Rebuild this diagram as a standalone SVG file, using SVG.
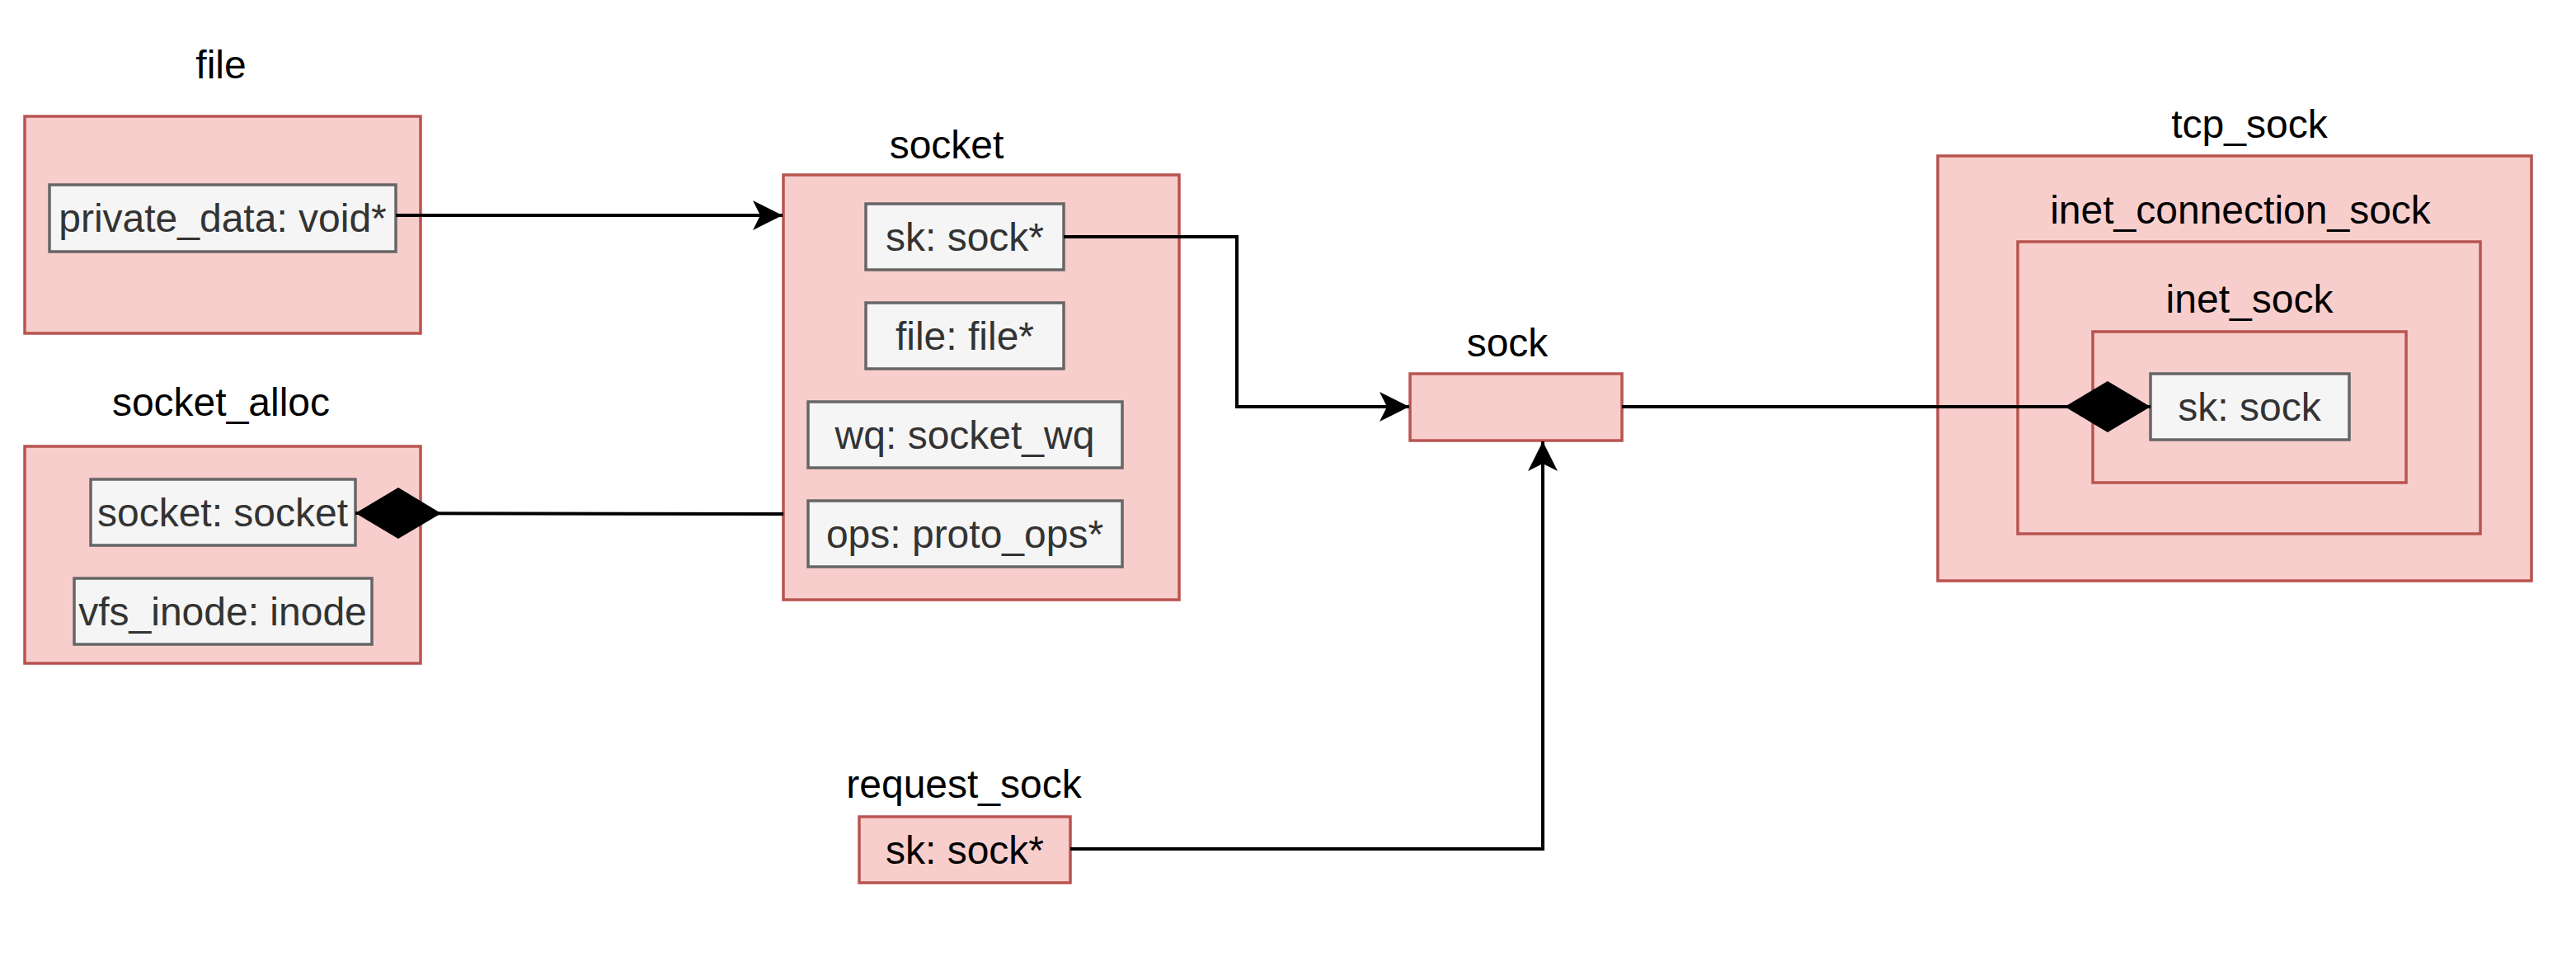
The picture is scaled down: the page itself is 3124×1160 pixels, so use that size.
<svg xmlns="http://www.w3.org/2000/svg" width="3124" height="1160" viewBox="0 0 3124 1160">
<style>
.bg{fill:#ffffff}
.struct{fill:#f8cecc;stroke:#b85450;stroke-width:3.5}
.field{fill:#f5f5f5;stroke:#666666;stroke-width:3.5}
.lbl{font-family:"Liberation Sans",Arial,Helvetica,sans-serif;font-size:48px;fill:#000000;text-anchor:middle}
.ftx{font-family:"Liberation Sans",Arial,Helvetica,sans-serif;font-size:48px;fill:#333333;text-anchor:middle}
.ftxb{font-family:"Liberation Sans",Arial,Helvetica,sans-serif;font-size:48px;fill:#000000;text-anchor:middle}
.edge{fill:none;stroke:#000000;stroke-width:4}
</style>
<defs>
<marker id="arrow" viewBox="-37 -19 38 38" markerWidth="38" markerHeight="38" refX="0" refY="0" orient="auto" markerUnits="userSpaceOnUse">
<path d="M0,0 L-36,-18 L-27,0 L-36,18 Z" fill="#000000"/>
</marker>
<marker id="diamond" viewBox="-106 -33 108 66" markerWidth="108" markerHeight="66" refX="0" refY="0" orient="auto" markerUnits="userSpaceOnUse">
<path d="M0,0 L-52,-31 L-104,0 L-52,31 Z" fill="#000000"/>
</marker>
</defs>
<rect class="bg" x="0" y="0" width="3124" height="1160"/>

<g id="file">
<text class="lbl" x="268" y="95">file</text>
<rect class="struct" x="30" y="141" width="480" height="263"/>
<g id="file-private_data">
<rect class="field" x="60" y="224" width="420" height="81"/>
<text class="ftx" x="270" y="281">private_data: void*</text>
</g>
</g>

<g id="socket_alloc">
<text class="lbl" x="268" y="504">socket_alloc</text>
<rect class="struct" x="30" y="541" width="480" height="263"/>
<g id="socket_alloc-socket">
<rect class="field" x="110" y="581" width="321" height="80"/>
<text class="ftx" x="270" y="638">socket: socket</text>
</g>
<g id="socket_alloc-vfs_inode">
<rect class="field" x="90" y="701" width="361" height="80"/>
<text class="ftx" x="270" y="758">vfs_inode: inode</text>
</g>
</g>

<g id="socket">
<text class="lbl" x="1148" y="192">socket</text>
<rect class="struct" x="950" y="212" width="480" height="515"/>
<g id="socket-sk">
<rect class="field" x="1050" y="247" width="240" height="80"/>
<text class="ftx" x="1170" y="304">sk: sock*</text>
</g>
<g id="socket-file">
<rect class="field" x="1050" y="367" width="240" height="80"/>
<text class="ftx" x="1170" y="424">file: file*</text>
</g>
<g id="socket-wq">
<rect class="field" x="980" y="487" width="381" height="80"/>
<text class="ftx" x="1170" y="544">wq: socket_wq</text>
</g>
<g id="socket-ops">
<rect class="field" x="980" y="607" width="381" height="80"/>
<text class="ftx" x="1170" y="664">ops: proto_ops*</text>
</g>
</g>

<g id="sock">
<text class="lbl" x="1828" y="432">sock</text>
<rect class="struct" x="1710" y="453" width="257" height="81"/>
</g>

<g id="request_sock">
<text class="lbl" x="1169" y="967">request_sock</text>
<rect class="struct" x="1042" y="990" width="256" height="80"/>
<text class="ftxb" x="1170" y="1047">sk: sock*</text>
</g>

<g id="tcp_sock">
<rect class="struct" x="2350" y="189" width="720" height="515"/>
<text class="lbl" x="2728" y="167">tcp_sock</text>
<g id="inet_connection_sock">
<rect class="struct" x="2447" y="293" width="561" height="354"/>
<text class="lbl" x="2717" y="271">inet_connection_sock</text>
<g id="inet_sock">
<rect class="struct" x="2538" y="402" width="380" height="183"/>
<text class="lbl" x="2728" y="379">inet_sock</text>
<g id="inet_sock-sk">
<rect class="field" x="2608" y="453" width="241" height="80"/>
<text class="ftx" x="2728" y="510">sk: sock</text>
</g>
</g>
</g>
</g>

<g id="connectors">
<path class="edge" d="M480,261 L949,261" marker-end="url(#arrow)"/>
<path class="edge" d="M1290,287 L1500,287 L1500,493 L1709,493" marker-end="url(#arrow)"/>
<path class="edge" d="M950,623 L431,622" marker-end="url(#diamond)"/>
<path class="edge" d="M1298,1029 L1871,1029 L1871,535" marker-end="url(#arrow)"/>
<path class="edge" d="M1967,493 L2608,493" marker-end="url(#diamond)"/>
</g>
</svg>
